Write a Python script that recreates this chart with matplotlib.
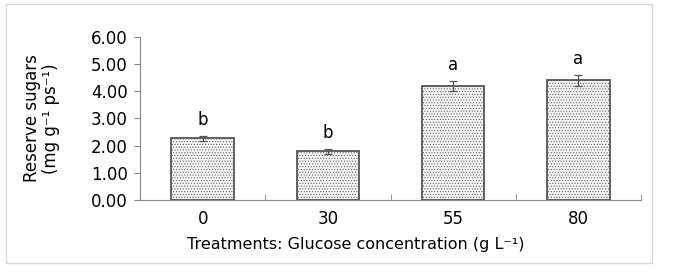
import matplotlib.pyplot as plt
import matplotlib.patches as mpatches

plt.rcParams['font.family'] = ['DejaVu Sans']
plt.rcParams['hatch.color'] = '#d4d4d4'
plt.rcParams['hatch.linewidth'] = 0.4

# data
categories = ['0', '30', '55', '80']
values = [2.27, 1.79, 4.19, 4.40]
errors = [0.10, 0.08, 0.18, 0.20]
letters = ['b', 'b', 'a', 'a']
yticks = [0, 1, 2, 3, 4, 5, 6]

fig = plt.figure(figsize=(6.84, 2.76), dpi=100)
ax = fig.add_axes([0.2047, 0.2754, 0.7325, 0.5906])

# outer chart border
fig.patches.append(mpatches.Rectangle((6 / 684, 13 / 276), 646 / 684, 259 / 276,
                                      transform=fig.transFigure, fill=False,
                                      edgecolor='#d9d9d9', linewidth=1))

x = range(len(categories))
ax.bar(x, values, width=0.5, color='#f3f3f3', edgecolor='#555555',
       linewidth=1.3, hatch='......', zorder=2)
ax.errorbar(x, values, yerr=errors, fmt='none', ecolor='#555555',
            elinewidth=0.9, capsize=3, capthick=0.9, zorder=3)

for xi, v, e, l in zip(x, values, errors, letters):
    ax.text(xi, v + e + 0.25, l, ha='center', va='bottom', fontsize=12)

ax.set_xlim(-0.5, 3.5)
ax.set_ylim(0, 6)
ax.set_yticks(yticks)
ax.set_yticklabels(['%.2f' % t for t in yticks], fontsize=12)
ax.set_xticks(list(x))
ax.set_xticklabels(categories, fontsize=12)
ax.tick_params(axis='x', length=0, pad=7)
ax.tick_params(axis='y', length=4, direction='out', color='#888888', pad=5)

# category boundary ticks pointing up, Excel style
ax.set_xticks([0.5, 1.5, 2.5, 3.5], minor=True)
ax.tick_params(axis='x', which='minor', length=4, direction='in', color='#888888')

for s in ['top', 'right']:
    ax.spines[s].set_visible(False)
ax.spines['left'].set_color('#888888')
ax.spines['bottom'].set_color('#888888')

ax.set_ylabel('Reserve sugars\n(mg g⁻¹ ps⁻¹)', fontsize=12, linespacing=1.05)
ax.yaxis.set_label_coords(-0.16, 0.5)
ax.set_xlabel('Treatments: Glucose concentration (g L⁻¹)', fontsize=11.5)
ax.xaxis.set_label_coords(0.43, -0.276)
ax.xaxis.label.set_va('center')

fig.savefig('out.png', dpi=100)
